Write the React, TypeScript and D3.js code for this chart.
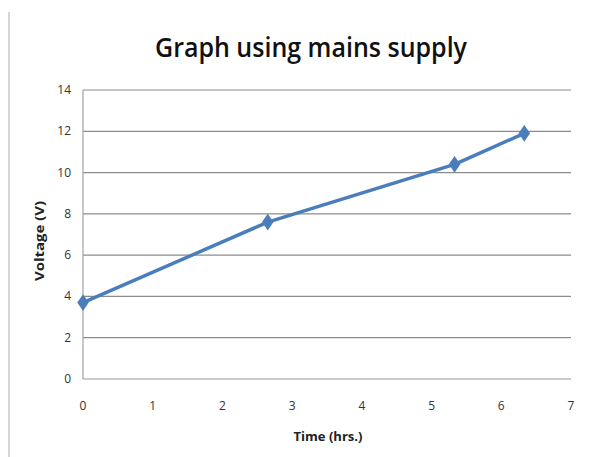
import * as d3 from 'd3';
import React from 'react';

// chart data
const times = [0, 2.65, 5.33, 6.33];
const voltages = [3.7, 7.6, 10.4, 11.9];
const xTicks = [0, 1, 2, 3, 4, 5, 6, 7];
const yTicks = [0, 2, 4, 6, 8, 10, 12, 14];
const title = 'Graph using mains supply';
const xTitle = 'Time (hrs.)';
const yTitle = 'Voltage (V)';

const W = 605;
const H = 457;
const margin = { top: 90, right: 34, bottom: 78, left: 83 };
const font = "'Open Sans', 'DejaVu Sans', sans-serif";

export default function App() {
	const x = d3.scaleLinear().domain([0, 7]).range([margin.left, W - margin.right]);
	const y = d3.scaleLinear().domain([0, 14]).range([H - margin.bottom, margin.top]);

	const points = times.map((t, i) => ({ t, v: voltages[i] }));
	const line = d3.line<{ t: number; v: number }>()
		.x(d => x(d.t))
		.y(d => y(d.v));
	const diamond = d3.symbol().type(d3.symbolDiamond).size(80)();

	return (
		<svg width={W} height={H} style={{ position: 'absolute', left: 0, top: 0, background: '#fff' }}>
			{/* frame edge on the left */}
			<line x1={9} x2={9} y1={12} y2={H} stroke="#c8c8c8" strokeWidth={1.5} />

			<text x={311} y={57} textAnchor="middle" fontFamily={font} fontSize={27} fontWeight={600}
				fill="#111" textLength={312} lengthAdjust="spacingAndGlyphs">{title}</text>

			{/* gridlines */}
			{yTicks.map(v => (
				<line key={'g' + v} x1={margin.left} x2={W - margin.right} y1={y(v)} y2={y(v)}
					stroke={v === 0 ? '#9a9a9a' : '#8c8c8c'} strokeWidth={1.2} />
			))}
			<line x1={margin.left} x2={margin.left} y1={y(14)} y2={y(0)} stroke="#a0a0a0" strokeWidth={1.2} />

			{/* y tick labels */}
			{yTicks.map(v => (
				<text key={'y' + v} x={71} y={y(v) + 4} textAnchor="end" fontFamily={font}
					fontSize={12} fill="#333">{v}</text>
			))}
			{/* x tick labels */}
			{xTicks.map(v => (
				<text key={'x' + v} x={x(v)} y={410} textAnchor="middle" fontFamily={font}
					fontSize={12} fill="#333">{v}</text>
			))}

			<text x={328} y={441} textAnchor="middle" fontFamily={font} fontSize={12.5} fontWeight={700}
				fill="#222" textLength={69} lengthAdjust="spacingAndGlyphs">{xTitle}</text>
			<text transform={`translate(44,241) rotate(-90)`} textAnchor="middle" fontFamily={font}
				fontSize={12.5} fontWeight={700} fill="#222" textLength={80} lengthAdjust="spacingAndGlyphs">{yTitle}</text>

			<path d={line(points) || ''} fill="none" stroke="#4a7ebb" strokeWidth={3.5} strokeLinejoin="round" />
			{points.map((d, i) => (
				<path key={'m' + i} d={diamond || ''} transform={`translate(${x(d.t)},${y(d.v)}) scale(1.2,1)`} fill="#4a7ebb" />
			))}
		</svg>
	);
}
